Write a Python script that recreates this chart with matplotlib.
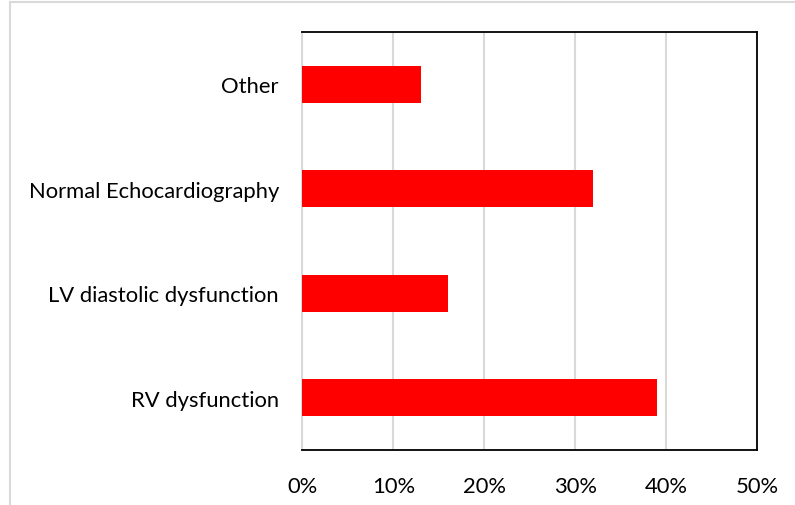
import matplotlib
matplotlib.use("Agg")
import matplotlib.pyplot as plt
from matplotlib.lines import Line2D
from matplotlib.ticker import FuncFormatter

categories = ["RV dysfunction", "LV diastolic dysfunction",
              "Normal Echocardiography", "Other"]
values = [39, 16, 32, 13]
x_ticks = [0, 10, 20, 30, 40, 50]

plt.rcParams['font.family'] = ['Lato', 'DejaVu Sans']

fig = plt.figure(figsize=(7.95, 5.06), dpi=100)
fig.patch.set_facecolor("white")

# chart-area frame (light gray)
frame_col = "#d9d9d9"
fig.add_artist(Line2D([0.0122, 1.0], [0.9935, 0.9935], transform=fig.transFigure,
                      color=frame_col, lw=1.5))
fig.add_artist(Line2D([0.0122, 0.0122], [0.0, 0.9935], transform=fig.transFigure,
                      color=frame_col, lw=1.5))

ax = fig.add_axes([0.3805, 0.1087, 0.5717, 0.826])
y = list(range(len(categories)))
ax.barh(y, values, height=0.355, color="#ff0000", zorder=3)

ax.set_xlim(0, 50)
ax.set_ylim(-0.5, len(categories) - 0.5)
ax.set_xticks(x_ticks)
ax.xaxis.set_major_formatter(FuncFormatter(lambda v, p: f"{v:.0f}%"))
ax.set_yticks(y)
ax.set_yticklabels(categories)

ax.grid(axis="x", color="#d9d9d9", lw=1.5, zorder=0)
ax.set_axisbelow(True)

for side in ["top", "right", "bottom"]:
    ax.spines[side].set_color("black")
    ax.spines[side].set_linewidth(1.3)
ax.spines["left"].set_color("#d9d9d9")
ax.spines["left"].set_linewidth(1.5)

ax.tick_params(axis="both", length=0, labelsize=15.8, colors="black")
ax.tick_params(axis="y", pad=17)
ax.tick_params(axis="x", pad=19)

fig.savefig("out.png", dpi=100, facecolor="white")
